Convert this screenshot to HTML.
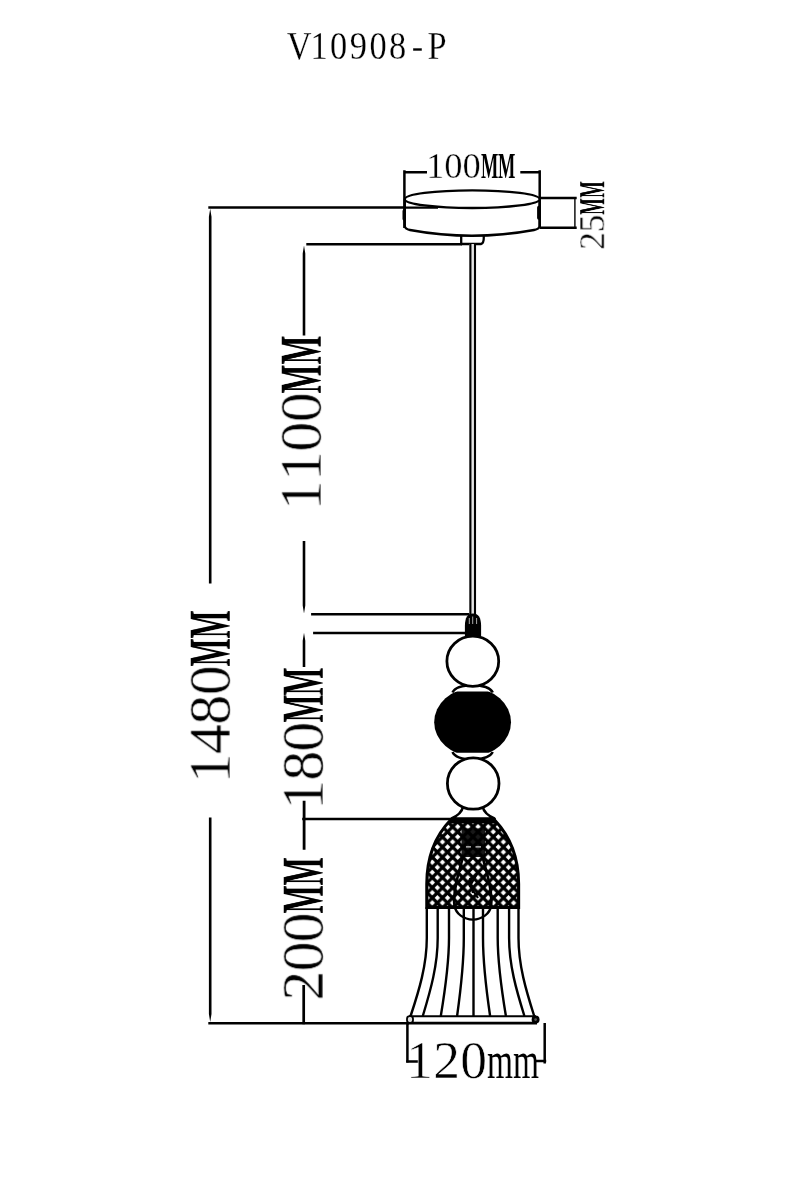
<!DOCTYPE html>
<html lang="en"><head><meta charset="utf-8"><title>V10908-P</title>
<style>
html,body{margin:0;padding:0;background:#fff}
#page{position:relative;width:796px;height:1200px;overflow:hidden;background:#fff}
svg{position:absolute;left:0;top:0;will-change:transform}
.lbl{position:absolute;font-family:"Liberation Serif",serif;color:#000;white-space:nowrap;line-height:1;font-kerning:none;font-variant-ligatures:none;height:1em;margin-top:-0.8375em;transform-origin:0 0.8375em;letter-spacing:calc(var(--p) - 0.5em);text-indent:calc((var(--p) - 0.5em) / 2)}
.lbl.v{transform:rotate(-90deg)}
.lbl.h{transform:translateZ(0)}
.lbl{will-change:transform;-webkit-text-stroke:0.0105em #fff}
.lbl i{-webkit-text-stroke:0}
.lbl i{font-style:normal;font-weight:bold;display:inline-block;width:0.944em;margin-right:calc(var(--pm) - 0.944em);text-indent:0;letter-spacing:0;transform-origin:0 50%;transform:scaleX(var(--s));will-change:transform}
.lbl i.lc{font-weight:normal;width:0.778em;margin-right:calc(var(--pm) - 0.778em);transform:scaleX(calc(var(--s) * 1.2134))}
</style></head>
<body><div id="page">
<svg width="796" height="1200" viewBox="0 0 796 1200">
<path d="M210.20 208.80 L211.50 216.80 L211.50 583.60 L208.90 583.60 L208.90 216.80 Z M208.90 817.40 L211.50 817.40 L211.50 1014.00 L210.20 1022.00 L208.90 1014.00 Z M304.00 245.50 L305.30 253.50 L305.30 335.50 L302.70 335.50 L302.70 253.50 Z M302.70 541.00 L305.30 541.00 L305.30 605.60 L304.00 613.60 L302.70 605.60 Z M304.00 632.70 L305.30 640.70 L305.30 667.00 L302.70 667.00 L302.70 640.70 Z M302.70 800.70 L305.50 800.70 L305.50 849.80 L302.70 849.80 Z M302.35 985.00 L305.05 985.00 L305.05 1024.30 L302.35 1024.30 Z" fill="#000"/>
<g stroke="#000" stroke-width="2.5" fill="none" stroke-linecap="butt">
<path d="M208.3 207.6 H405"/>
<path d="M208.3 1023.3 H409"/>
<path d="M306.3 244.3 H462"/>
<path d="M311.1 614.3 H469.5"/>
<path d="M313.1 632.9 H466"/>
<path d="M302.2 819.1 H452"/>
<path d="M404.4 170.3 V228 M539.7 170.3 V228"/>
<path d="M404.4 172.3 H427 M520.3 172.3 H539.7"/>
<path d="M539.7 198.1 H576.7 M539.7 227.8 H576.7"/>
<path d="M574.9 198 V227.8" stroke-width="1.4"/>
<path d="M407.4 1023 V1062.6 M544.7 1023 V1063.5"/>
<path d="M406.2 1061.4 H419.5 M535.3 1060.9 H546.2"/>
</g>
<g stroke="#000" stroke-width="2.3" fill="none" stroke-linejoin="round">
<ellipse cx="472.2" cy="199.2" rx="67.4" ry="8.8" fill="#fff"/>
<path d="M404.8 199.5 V226 Q405 229 410 230 Q472 241.5 534 230 Q539.4 229 539.7 226 V199.5"/>
<path d="M461.2 236 V244 H481 Q484 243.5 483.8 236" />
<path d="M404 207.6 H438" stroke-width="2.3"/>
</g>
<path d="M404.2 211 V219 M538.8 207.5 V218" stroke="#000" stroke-width="3.4" stroke-linecap="round"/>
<rect x="469.4" y="244" width="6.6" height="372" fill="#e4e4e4"/>
<path d="M470.4 244 V616 M475 244 V616" stroke="#000" stroke-width="2.1"/>
<path d="M464.9 636.5 V626 Q464.9 613.6 473 613.6 Q481.1 613.6 481.1 626 V636.5 Z" fill="#000"/>
<path d="M469.3 618 V624 M472.7 616.5 V624 M476.6 618 V624" stroke="#bbb" stroke-width="0.9"/>
<g stroke="#000" stroke-width="2.5" fill="#fff">
<path d="M463.3 806 Q461.5 814.5 451 818.6 H495 Q484.2 814.5 482.4 806"/>
</g>
<path d="M449.5 819.4 H495.8" stroke="#000" stroke-width="3"/>
<path d="M452.5 692.5 C455 687 464 685.2 472.7 685.2 C481.5 685.2 490 687 492.8 692.5" stroke="#000" stroke-width="2.5" fill="#fff"/>
<path d="M452.5 752 C455 757.5 464 759.3 472.7 759.3 C481.5 759.3 490 757.5 492.8 752" stroke="#000" stroke-width="2.5" fill="#fff"/>
<g stroke="#000" stroke-width="2.8" fill="#fff">
<ellipse cx="472.8" cy="661.2" rx="25.9" ry="25.1"/>
<ellipse cx="473.2" cy="783.5" rx="25.8" ry="25.7"/>
</g>
<clipPath id="bcut"><rect x="430" y="691.5" width="90" height="61.3"/></clipPath>
<ellipse cx="472.6" cy="722.15" rx="38.4" ry="33.9" fill="#000" clip-path="url(#bcut)"/>
<defs>
<pattern id="mesh" width="10.16" height="10.16" patternUnits="userSpaceOnUse" x="452.62" y="826.70">
<rect width="10.16" height="10.16" fill="#000"/>
<path d="M5.08 -2.75 L7.83 0.00 L5.08 2.75 L2.33 0.00 Z M5.08 7.41 L7.83 10.16 L5.08 12.91 L2.33 10.16 Z M0.00 2.33 L2.75 5.08 L0.00 7.83 L-2.75 5.08 Z M10.16 2.33 L12.91 5.08 L10.16 7.83 L7.41 5.08 Z" fill="#fff"/>
</pattern>
<clipPath id="domeclip"><path d="M450.6 820 C438 833 426.8 852 426.8 884 V907.5 H518.6 V884 C518.6 852 507 833 494.6 820 Z"/></clipPath>
</defs>
<path d="M450.6 820 C438 833 426.8 852 426.8 884 V907.5 H518.6 V884 C518.6 852 507 833 494.6 820 Z" fill="url(#mesh)" stroke="#000" stroke-width="3.1"/>
<path d="M450 821.2 H495.2" stroke="#000" stroke-width="4.4"/>
<path d="M426 907 H519.4" stroke="#000" stroke-width="2.6"/>
<g clip-path="url(#domeclip)">
<rect x="461.5" y="828.5" width="23.5" height="28.5" fill="#000" opacity="0.9"/>
<path d="M466 846.8 H471 M475.5 846.8 H481" stroke="#ccc" stroke-width="1.2"/>
<path d="M463 857 C458 875 453.5 890 454.2 903 C455 914 464 919.5 472.8 919.5 C481.5 919.5 490.5 914 491.3 903 C492 890 487.5 875 482.5 857" stroke="#000" stroke-width="2.6" fill="none"/>
<path d="M470 878 L473 893 M478 872 L470 886 L478 898" stroke="#000" stroke-width="2.2" fill="none"/>
</g>
<path d="M454.4 905 C455.5 914 464 919.6 472.9 919.6 C481.6 919.6 490.2 914 491.2 905" stroke="#000" stroke-width="2.3" fill="none"/>
<g stroke="#000" stroke-width="2.4" fill="none">
<path d="M426.8 907 V938 C426.8 965 419.2 990 410.6 1016"/>
<path d="M437.7 907 V938 C437.7 965 430.7 990 422.8 1016"/>
<path d="M449.0 907 V938 C449.0 965 445.1 990 440.8 1016"/>
<path d="M463.8 907 V938 C463.8 965 460.7 990 457.1 1016"/>
<path d="M473.5 907 V938 C473.5 965 473.5 990 473.5 1016"/>
<path d="M483.0 907 V938 C483.0 965 486.3 990 490.1 1016"/>
<path d="M497.7 907 V938 C497.7 965 501.6 990 505.9 1016"/>
<path d="M509.1 907 V938 C509.1 965 516.3 990 524.4 1016"/>
<path d="M518.5 907 V938 C518.5 965 525.9 990 534.2 1016"/>
</g>
<g stroke="#000" fill="#fff">
<path d="M409 1016.2 H536" stroke-width="2"/>
<path d="M408 1023.1 H537" stroke-width="2.9"/>
<rect x="407" y="1016.2" width="6" height="6.6" rx="2.6" stroke-width="1.8" fill="#ddd"/>
<circle cx="535.6" cy="1019.6" r="2.7" stroke-width="2.6" fill="#555"/>
</g>
<text transform="scale(0.860,1)" x="348.02 370.91 393.79 416.67 439.56 462.44 485.33 508.21" y="59.3" text-anchor="middle" font-family="Liberation Serif, serif" font-size="40" fill="#000" stroke="#fff" stroke-width="0.25" style="font-kerning:none">V10908-P</text>
</svg>
<div class="lbl h" aria-label="100MM" style="left:426.4px;top:178.9px;font-size:36.6px;--p:18.30px;--pm:17.30px;--s:0.501;">100<i>M</i><i>M</i></div>
<div class="lbl h" aria-label="120mm" style="left:406.3px;top:1078.9px;font-size:53.5px;--p:27.10px;--pm:25.90px;--s:0.513;">120<i class="lc">m</i><i class="lc">m</i></div>
<div class="lbl v" aria-label="25MM" style="left:605.2px;top:249.8px;font-size:35.6px;--p:17.60px;--pm:16.70px;--s:0.497;">25<i>M</i><i>M</i></div>
<div class="lbl v" aria-label="1100MM" style="left:320.6px;top:509.9px;font-size:60.0px;--p:29.40px;--pm:28.60px;--s:0.505;">1100<i>M</i><i>M</i></div>
<div class="lbl v" aria-label="1480MM" style="left:230.4px;top:783.6px;font-size:60.0px;--p:29.40px;--pm:27.80px;--s:0.491;">1480<i>M</i><i>M</i></div>
<div class="lbl v" aria-label="180MM" style="left:322.8px;top:809.5px;font-size:60.0px;--p:29.00px;--pm:27.70px;--s:0.489;">180<i>M</i><i>M</i></div>
<div class="lbl v" aria-label="200MM" style="left:323.2px;top:999.9px;font-size:60.0px;--p:29.10px;--pm:28.00px;--s:0.494;">200<i>M</i><i>M</i></div>
</div></body></html>
